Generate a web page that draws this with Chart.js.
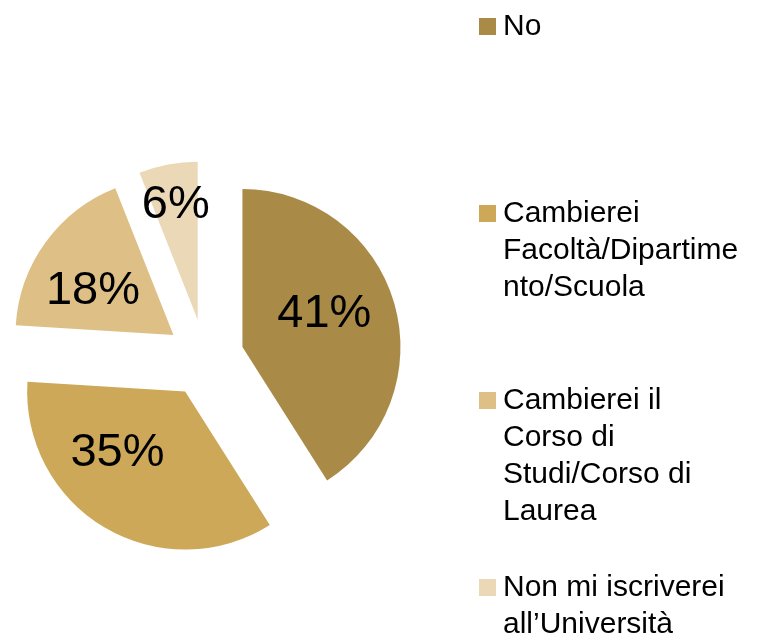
<!DOCTYPE html>
<html>
<head>
<meta charset="utf-8">
<script src="https://cdn.jsdelivr.net/npm/chart.js@4.4.1/dist/chart.umd.min.js"></script>
<style>
  html, body { margin: 0; padding: 0; background: #ffffff; }
  #wrap { width: 757px; height: 637px; }
</style>
</head>
<body>
<div id="wrap"><canvas id="c" width="757" height="637"></canvas></div>
<script>
// ---- data ----
const categories = [
  "No",
  "Cambierei Facoltà/Dipartimento/Scuola",
  "Cambierei il Corso di Studi/Corso di Laurea",
  "Non mi iscriverei all’Università"
];
const values = [41, 35, 18, 6];
const sliceColors = ["#A98A47", "#CCA858", "#DEC086", "#EAD8B6"];

// ---- style constants ----
const FONT = "'Liberation Sans', Arial, sans-serif";
const EXPLODE = 39;             // px each slice is pulled out
const RADIUS = 158;
const labelFrac = [0.56, 0.58, 0.58, 0.74];     // label distance from apex (x radius)
const labelTurn = [-6, 17, -7.5, 0];            // degrees of rotation from mid-angle

const explodePlugin = {
  id: 'explode',
  afterDatasetsUpdate(chart) {
    const meta = chart.getDatasetMeta(0);
    meta.data.forEach(arc => {
      const mid = (arc.startAngle + arc.endAngle) / 2;
      arc.x += Math.cos(mid) * EXPLODE;
      arc.y += Math.sin(mid) * EXPLODE;
    });
  }
};

const labelPlugin = {
  id: 'sliceLabels',
  afterDatasetsDraw(chart) {
    const ctx = chart.ctx;
    const meta = chart.getDatasetMeta(0);
    const total = values.reduce((a, b) => a + b, 0);
    ctx.save();
    ctx.fillStyle = '#000000';
    ctx.font = '47px ' + FONT;
    ctx.textAlign = 'center';
    ctx.textBaseline = 'middle';
    meta.data.forEach((arc, i) => {
      const mid = (arc.startAngle + arc.endAngle) / 2 + labelTurn[i] * Math.PI / 180;
      const r = arc.outerRadius * labelFrac[i];
      const pct = Math.round(values[i] / total * 100) + '%';
      ctx.fillText(pct, arc.x + Math.cos(mid) * r, arc.y + Math.sin(mid) * r);
    });
    ctx.restore();
  }
};

function wrapText(ctx, text, maxW) {
  const words = text.split(' ');
  const lines = [];
  let line = '';
  words.forEach(w => {
    const test = line ? line + ' ' + w : w;
    if (ctx.measureText(test).width <= maxW) { line = test; return; }
    if (line) lines.push(line);
    if (ctx.measureText(w).width <= maxW) { line = w; return; }
    let part = '';
    for (const ch of w) {
      if (ctx.measureText(part + ch).width > maxW && part) { lines.push(part); part = ch; }
      else part += ch;
    }
    line = part;
  });
  if (line) lines.push(line);
  return lines;
}

const legendPlugin = {
  id: 'sideLegend',
  afterDraw(chart) {
    const ctx = chart.ctx;
    ctx.save();
    ctx.font = '30px ' + FONT;
    ctx.textBaseline = 'alphabetic';
    ctx.textAlign = 'left';
    categories.forEach((label, i) => {
      const base = 35 + i * 187;
      ctx.fillStyle = sliceColors[i];
      ctx.fillRect(479, base - 17, 17, 17);
      ctx.fillStyle = '#000000';
      const lines = wrapText(ctx, label, 240);
      lines.forEach((ln, k) => ctx.fillText(ln, 503, base + k * 37));
    });
    ctx.restore();
  }
};

new Chart(document.getElementById('c'), {
  type: 'pie',
  data: {
    labels: categories,
    datasets: [{
      data: values,
      backgroundColor: sliceColors,
      borderWidth: 0,
      radius: RADIUS
    }]
  },
  options: {
    responsive: false,
    animation: false,
    events: [],
    layout: { padding: { left: 0, right: 347, top: 79, bottom: 0 } },
    plugins: {
      legend: { display: false },
      tooltip: { enabled: false }
    }
  },
  plugins: [explodePlugin, labelPlugin, legendPlugin]
});
</script>
</body>
</html>
